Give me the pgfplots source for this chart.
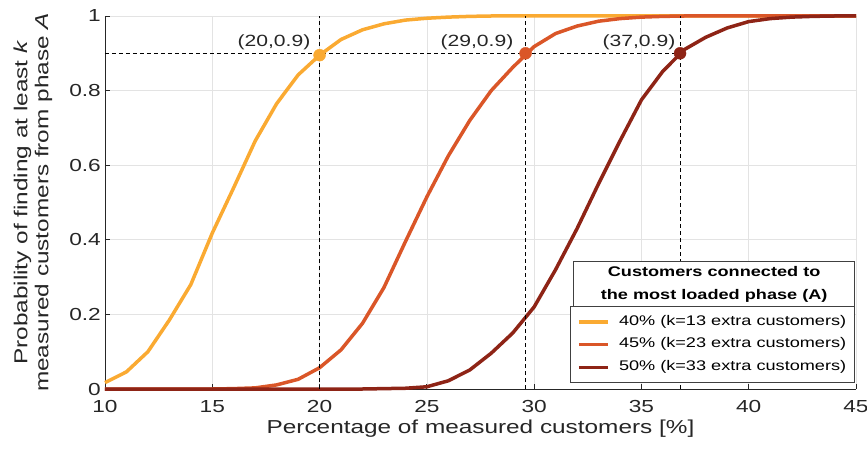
\documentclass[border=0pt]{standalone}
\usepackage{pgfplots}
\pgfplotsset{compat=1.18}
\usepackage{fontspec}
\setmainfont{Liberation Sans}[FakeStretch=1.3]
\definecolor{cA}{RGB}{250,170,50}
\definecolor{cB}{RGB}{218,86,40}
\definecolor{cC}{RGB}{142,36,22}
\definecolor{axgray}{RGB}{38,38,38}
\begin{document}
\begin{tikzpicture}
\begin{axis}[
  scale only axis, width=751bp, height=373bp,
  xmin=10, xmax=45, ymin=0, ymax=1,
  xtick={10,15,...,45}, ytick={0,0.2,0.4,0.6,0.8,1},
  axis lines*=left,
  axis line style={axgray, line width=0.8bp},
  tick align=inside, major tick length=5bp,
  tick style={axgray, line width=0.8bp},
  grid=major, major grid style={gray!22, line width=0.7bp},
  clip=false,
  /pgf/number format/assume math mode=true,
  ticklabel style={font=\fontsize{17.5}{20}\selectfont, text=axgray},
  xticklabel style={inner ysep=0pt, yshift=-11bp},
  yticklabel style={inner xsep=0pt, xshift=-4bp},
  xlabel={Percentage of measured customers [\%]},
  ylabel={Probability of finding at least \textit{k}\\measured customers from phase \textit{A}},
  label style={font=\fontsize{18.8}{21}\selectfont, text=axgray},
  xlabel style={at={(axis description cs:0.5,-0.118)}, anchor=base, inner sep=0pt},
  ylabel style={at={(axis description cs:-0.07,0.5)}, anchor=south, align=center, inner sep=0pt},
  legend style={at={(axis description cs:0.9987,0.016)}, anchor=south east,
    draw=black!75, line width=0.8bp, fill=white,
    inner xsep=7bp, inner ysep=7bp, row sep=6.2bp, column sep=8bp,
    font=\fontsize{14}{16}\selectfont,
    nodes={inner xsep=0pt, inner ysep=1.5bp, text height=10bp, text depth=3.5bp, minimum width=230bp}},
  legend image code/.code={\draw[#1, line width=3.5bp] (0bp,0bp) -- (29bp,0bp);},
]
\addplot[cA, line width=3.5bp, line join=round] coordinates {
(10,0.017) (11,0.046) (12,0.100) (13,0.185) (14,0.280) (15,0.418) (16,0.540)
(17,0.665) (18,0.765) (19,0.842) (20,0.895) (21,0.937) (22,0.963) (23,0.979)
(24,0.989) (25,0.994) (26,0.997) (27,0.999) (28,1) (29,1) (30,1) (31,1) (32,1)
(33,1) (34,1) (35,1) (36,1) (37,1) (38,1) (39,1) (40,1) (41,1) (42,1) (43,1) (44,1) (45,1)};
\addlegendentry{40\% (k=13 extra customers)}
\addplot[cB, line width=3.5bp, line join=round] coordinates {
(10,0) (11,0) (12,0) (13,0) (14,0) (15,0) (16,0.001) (17,0.003) (18,0.011)
(19,0.026) (20,0.057) (21,0.105) (22,0.176) (23,0.272) (24,0.395) (25,0.515)
(26,0.625) (27,0.720) (28,0.800) (29,0.862) (30,0.918) (31,0.953) (32,0.973)
(33,0.986) (34,0.993) (35,0.997) (36,0.999) (37,1) (38,1) (39,1) (40,1) (41,1)
(42,1) (43,1) (44,1) (45,1)};
\addlegendentry{45\% (k=23 extra customers)}
\addplot[cC, line width=3.5bp, line join=round] coordinates {
(10,0) (11,0) (12,0) (13,0) (14,0) (15,0) (16,0) (17,0) (18,0) (19,0) (20,0)
(21,0) (22,0) (23,0.001) (24,0.002) (25,0.006) (26,0.022) (27,0.051) (28,0.096)
(29,0.150) (30,0.220) (31,0.320) (32,0.430) (33,0.550) (34,0.665) (35,0.775)
(36,0.852) (37,0.910) (38,0.943) (39,0.968) (40,0.985) (41,0.993) (42,0.997)
(43,0.999) (44,1) (45,1)};
\addlegendentry{50\% (k=33 extra customers)}
% markers
\addplot[only marks, mark=*, mark size=6bp, cA, forget plot] coordinates {(20,0.895)};
\addplot[only marks, mark=*, mark size=6bp, cB, forget plot] coordinates {(29.6,0.9)};
\addplot[only marks, mark=*, mark size=6bp, cC, forget plot] coordinates {(36.8,0.9)};
% dashed guide lines
\addplot[black, line width=0.8bp, dash pattern=on 4bp off 3bp, forget plot] coordinates {(10,0.9) (36.8,0.9)};
\addplot[black, line width=0.8bp, dash pattern=on 4bp off 3bp, forget plot] coordinates {(20,0) (20,1)};
\addplot[black, line width=0.8bp, dash pattern=on 4bp off 3bp, forget plot] coordinates {(29.6,0) (29.6,1)};
\addplot[black, line width=0.8bp, dash pattern=on 4bp off 3bp, forget plot] coordinates {(36.8,0) (36.8,1)};
% annotations
\node[anchor=base east, inner sep=0pt, font=\fontsize{16.3}{18}\selectfont, text=axgray, xshift=-9bp, yshift=6.5bp] at (axis cs:20,0.9) {(20,0.9)};
\node[anchor=base east, inner sep=0pt, font=\fontsize{16.3}{18}\selectfont, text=axgray, xshift=-12bp, yshift=6.5bp] at (axis cs:29.6,0.9) {(29,0.9)};
\node[anchor=base east, inner sep=0pt, font=\fontsize{16.3}{18}\selectfont, text=axgray, xshift=-4.5bp, yshift=6.5bp] at (axis cs:36.8,0.9) {(37,0.9)};
% legend title
\node[draw=black!75, line width=0.8bp, fill=white, anchor=south east, minimum width=281bp, minimum height=45bp, align=center, inner sep=0pt, font=\bfseries\fontsize{14}{22.7}\selectfont] at (axis description cs:0.9987,0.2198) {Customers connected to\\the most loaded phase (A)};
\end{axis}
\pgfresetboundingbox
\path ([xshift=-105bp,yshift=-61bp]current axis.south west) rectangle ([xshift=11bp,yshift=16bp]current axis.north east);
\end{tikzpicture}
\end{document}
